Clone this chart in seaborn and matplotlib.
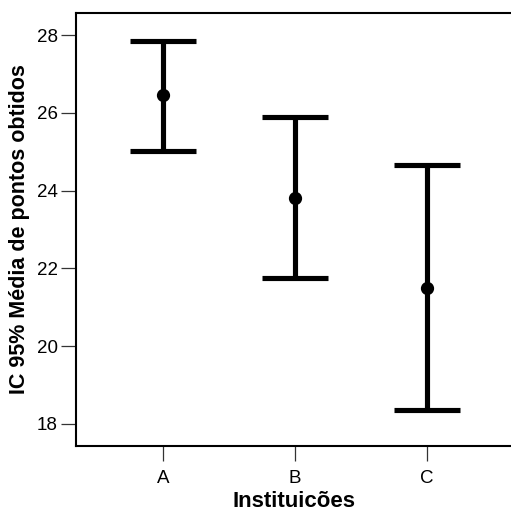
import pandas as pd
import matplotlib
matplotlib.use("Agg")
import matplotlib.pyplot as plt
import seaborn as sns

# Intervalos de confiança 95% por instituição
instituicoes = ["A", "B", "C"]
limite_inferior = [25.02, 21.75, 18.35]
media = [26.45, 23.82, 21.50]
limite_superior = [27.85, 25.90, 24.65]

# Três linhas por grupo: mediana = média, mín/máx = limites do IC
linhas = []
for inst, lo, m, hi in zip(instituicoes, limite_inferior, media, limite_superior):
    for v in (lo, m, hi):
        linhas.append({"inst": inst, "valor": v})
df = pd.DataFrame(linhas)

sns.set_style("white")
plt.rcParams["font.family"] = ["Liberation Sans", "DejaVu Sans"]
plt.rcParams["text.color"] = "black"
plt.rcParams["axes.labelcolor"] = "black"

fig = plt.figure(figsize=(5.11, 5.11), dpi=100)
ax = fig.add_axes([76 / 511, 1 - 446 / 511, 1 - 76 / 511, (446 - 13) / 511])

sns.pointplot(data=df, x="inst", y="valor", estimator="median",
              errorbar=("pi", 100), capsize=0.5, linestyle="none",
              color="black", markersize=7.5, marker="o",
              err_kws={"linewidth": 3.7, "solid_capstyle": "butt"}, ax=ax)

ax.set_xlim(-0.66, 2.64)
ax.set_ylim(17.43, 28.57)
ax.set_yticks([18, 20, 22, 24, 26, 28])

ax.set_xlabel("Instituicões", fontsize=16, fontweight="bold", labelpad=3)
ax.set_ylabel("IC 95% Média de pontos obtidos", fontsize=15.5, fontweight="bold", labelpad=5)

for lado in ["left", "bottom", "top"]:
    ax.spines[lado].set_color("black")
    ax.spines[lado].set_linewidth(1.5)
ax.spines["right"].set_visible(False)

ax.tick_params(axis="both", which="both", direction="out", length=11, width=0.9,
               color="#333333", labelsize=13.5, labelcolor="black", pad=2,
               left=True, bottom=True)
ax.tick_params(axis="x", pad=6)

fig.savefig("out.png", dpi=100)
plt.close(fig)
